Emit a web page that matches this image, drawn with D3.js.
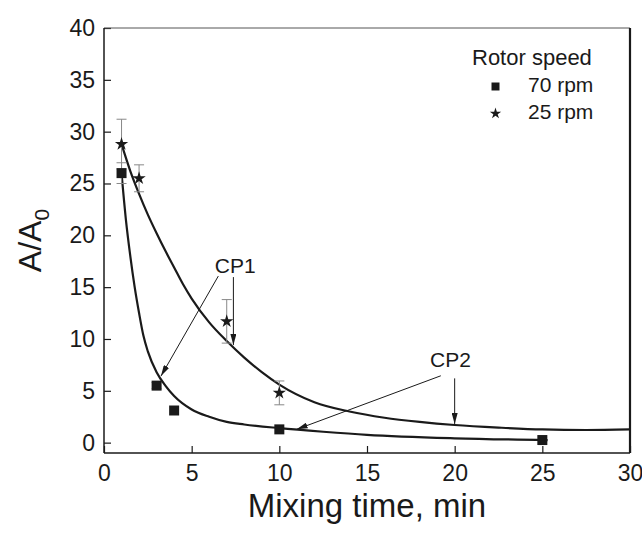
<!DOCTYPE html>
<html>
<head>
<meta charset="utf-8">
<script src="https://cdn.jsdelivr.net/npm/d3@7"></script>
<style>
	body { margin: 0; background: #fff; }
	text { font-family: "Liberation Sans", Arial, Helvetica, sans-serif; fill: #1a1a1a; }
	.tick text { font-size: 23px; }
</style>
</head>
<body>
<div id="chart"></div>
<script>
// measured points, 70 rpm (squares)
var time70 = [1, 3, 4, 10, 25];
var ratio70 = [26.0, 5.5, 3.1, 1.28, 0.25];
var err70 = [1.0, 0.3, 0, 0, 0];

// measured points, 25 rpm (stars)
var time25 = [1, 2, 7, 10];
var ratio25 = [28.8, 25.5, 11.7, 4.8];
var err25 = [2.4, 1.3, 2.1, 1.15];

// fitted curves
var fit70X = [1, 1.25, 1.5, 1.75, 2, 2.25, 2.5, 3, 3.5, 4, 5, 6, 7, 8, 10, 12.5, 15, 20, 25.3];
var fit70Y = [26.0, 21.5, 18.0, 15.0, 12.5, 10.3, 8.8, 6.8, 5.5, 4.5, 3.2, 2.5, 2.0, 1.75, 1.4, 1.05, 0.75, 0.42, 0.25];
var fit25X = [1, 1.5, 2, 2.5, 3, 3.5, 4, 4.5, 5, 6, 7, 8, 9, 10, 12, 14, 16, 18, 20, 22.5, 25, 27.5, 30];
var fit25Y = [28.8, 26.2, 24.0, 22.0, 20.2, 18.5, 16.9, 15.3, 13.9, 11.6, 9.8, 8.2, 6.8, 5.6, 3.9, 3.0, 2.4, 2.0, 1.7, 1.45, 1.27, 1.22, 1.27];

var xTicks = [0, 5, 10, 15, 20, 25, 30];
var yTicks = [0, 5, 10, 15, 20, 25, 30, 35, 40];

// annotation arrows [x1, y1, x2, y2] in data units
var cp1Arrows = [[6.52, 16.07, 3.25, 6.42], [7.38, 15.97, 7.38, 9.41]];
var cp2Arrows = [[19.21, 6.45, 10.99, 1.28], [20, 6.2, 20, 1.79]];
var cpLabels = [{name: "CP1", x: 7.48, y: 16.35}, {name: "CP2", x: 19.76, y: 7.32}];

var legendTitle = "Rotor speed";
var legendItems = ["70 rpm", "25 rpm"];

var W = 642, H = 533;
var margin = {top: 28, right: 12, bottom: 80, left: 104},
	width = W - margin.left - margin.right,
	height = H - margin.top - margin.bottom;

var svg = d3.select("#chart")
	.append("svg")
	.attr("width", W)
	.attr("height", H);

svg.append("defs").append("marker")
	.attr("id", "head")
	.attr("markerUnits", "userSpaceOnUse")
	.attr("markerWidth", 11)
	.attr("markerHeight", 6)
	.attr("refX", 11)
	.attr("refY", 3)
	.attr("orient", "auto")
	.append("path")
	.attr("d", "M0,0 L11,3 L0,6 Z")
	.attr("fill", "#1a1a1a");

var g = svg.append("g")
	.attr("transform", "translate(" + margin.left + "," + margin.top + ")");

var x = d3.scaleLinear().domain([0, 30]).range([0, width]);
var y = d3.scaleLinear().domain([-1, 40]).range([height, 0]);

/**  axes, ticks pointing inward  **/
var xAxis = d3.axisBottom(x).tickValues(xTicks).tickSize(-7).tickPadding(13);
var yAxis = d3.axisLeft(y).tickValues(yTicks).tickSize(-7).tickPadding(9);

var gx = g.append("g")
	.attr("transform", "translate(0," + height + ")")
	.call(xAxis);
var gy = g.append("g").call(yAxis);

[gx, gy].forEach(function(a) {
	a.select(".domain").remove();
	a.selectAll("line").attr("stroke", "#1a1a1a").attr("stroke-width", 1.2);
	a.selectAll("text")
		.style("font-family", "'Liberation Sans', Arial, sans-serif")
		.attr("fill", "#1a1a1a");
});
gx.selectAll("text").attr("dy", "0.66em");

// frame
g.append("line").attr("x1", 0).attr("y1", 0).attr("x2", width).attr("y2", 0)
	.attr("stroke", "#555").attr("stroke-width", 1);
g.append("line").attr("x1", 0).attr("y1", 0).attr("x2", 0).attr("y2", height)
	.attr("stroke", "#1a1a1a").attr("stroke-width", 1.5);
g.append("line").attr("x1", 0).attr("y1", height).attr("x2", width).attr("y2", height)
	.attr("stroke", "#1a1a1a").attr("stroke-width", 1.5);
g.append("line").attr("x1", width).attr("y1", 0).attr("x2", width).attr("y2", height)
	.attr("stroke", "#1a1a1a").attr("stroke-width", 2.2);

/**  fitted curves  **/
var line = d3.line()
	.x(function(d) { return x(d[0]); })
	.y(function(d) { return y(d[1]); })
	.curve(d3.curveMonotoneX);

[[fit70X, fit70Y], [fit25X, fit25Y]].forEach(function(f) {
	var pts = f[0].map(function(v, i) { return [v, f[1][i]]; });
	g.append("path")
		.datum(pts)
		.attr("d", line)
		.attr("fill", "none")
		.attr("stroke", "#1a1a1a")
		.attr("stroke-width", 2.2);
});

/**  error bars  **/
function errorBars(xs, ys, es) {
	for (var i = 0; i < xs.length; i++) {
		if (es[i] == 0) continue;
		var cx = x(xs[i]), top = y(ys[i] + es[i]), bot = y(ys[i] - es[i]);
		g.append("line").attr("x1", cx).attr("x2", cx).attr("y1", top).attr("y2", bot)
			.attr("stroke", "#888").attr("stroke-width", 1);
		g.append("line").attr("x1", cx - 5).attr("x2", cx + 5).attr("y1", top).attr("y2", top)
			.attr("stroke", "#888").attr("stroke-width", 1);
		g.append("line").attr("x1", cx - 5).attr("x2", cx + 5).attr("y1", bot).attr("y2", bot)
			.attr("stroke", "#888").attr("stroke-width", 1);
	}
}
errorBars(time70, ratio70, err70);
errorBars(time25, ratio25, err25);

/**  markers  **/
var square = d3.symbol().type(d3.symbolSquare).size(100);
var star = d3.symbol().type(d3.symbolStar).size(55);

g.selectAll(".sq")
	.data(time70)
	.enter()
	.append("path")
	.attr("class", "sq")
	.attr("d", square)
	.attr("transform", function(d, i) { return "translate(" + x(d) + "," + y(ratio70[i]) + ")"; })
	.attr("fill", "#1a1a1a");

g.selectAll(".st")
	.data(time25)
	.enter()
	.append("path")
	.attr("class", "st")
	.attr("d", star)
	.attr("transform", function(d, i) { return "translate(" + x(d) + "," + y(ratio25[i]) + ")"; })
	.attr("fill", "#1a1a1a");

/**  CP annotations  **/
cp1Arrows.concat(cp2Arrows).forEach(function(a) {
	g.append("line")
		.attr("x1", x(a[0])).attr("y1", y(a[1]))
		.attr("x2", x(a[2])).attr("y2", y(a[3]))
		.attr("stroke", "#1a1a1a")
		.attr("stroke-width", 1)
		.attr("marker-end", "url(#head)");
});

g.selectAll(".cp")
	.data(cpLabels)
	.enter()
	.append("text")
	.attr("class", "cp")
	.attr("x", function(d) { return x(d.x); })
	.attr("y", function(d) { return y(d.y); })
	.attr("text-anchor", "middle")
	.attr("font-size", 21)
	.text(function(d) { return d.name; });

/**  legend  **/
var leg = svg.append("g");
leg.append("text")
	.attr("x", 472).attr("y", 65)
	.attr("font-size", 22)
	.text(legendTitle);
leg.append("path")
	.attr("d", d3.symbol().type(d3.symbolSquare).size(64))
	.attr("transform", "translate(495.5,86.5)")
	.attr("fill", "#1a1a1a");
leg.append("path")
	.attr("d", d3.symbol().type(d3.symbolStar).size(40))
	.attr("transform", "translate(495.5,113.5)")
	.attr("fill", "#1a1a1a");
leg.selectAll(".li")
	.data(legendItems)
	.enter()
	.append("text")
	.attr("class", "li")
	.attr("x", 528)
	.attr("y", function(d, i) { return 92 + i * 27; })
	.attr("font-size", 21)
	.text(function(d) { return d; });

/**  axis titles  **/
svg.append("text")
	.attr("x", margin.left + width / 2)
	.attr("y", 517)
	.attr("text-anchor", "middle")
	.attr("font-size", 33)
	.text("Mixing time, min");

var yt = svg.append("text")
	.attr("transform", "translate(41," + (margin.top + height / 2) + ") rotate(-90)")
	.attr("text-anchor", "middle")
	.attr("font-size", 32);
yt.append("tspan").text("A/A");
yt.append("tspan").attr("font-size", 21).attr("dy", 8).text("0");
</script>
</body>
</html>
